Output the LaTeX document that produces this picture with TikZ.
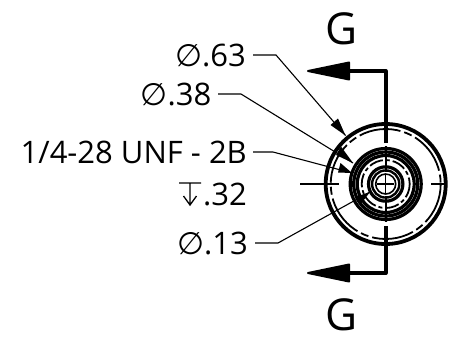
\documentclass[tikz,border=0pt]{standalone}
\usepackage{fontspec}
\setmainfont{Open Sans}
\newfontfamily\sym{DejaVu Sans}
\newcommand{\dia}{{\sym ∅}}
\begin{document}
\begin{tikzpicture}[x=1bp,y=-1bp,
  lab/.style={font=\fontsize{31bp}{33bp}\selectfont,inner sep=0pt,anchor=east},
  sec/.style={font=\fontsize{44bp}{46bp}\selectfont,inner sep=0pt},
  lead/.style={line width=1.1bp},
  thick ring/.style={line width=3.8bp},
  thin ring/.style={line width=1.8bp},
  secline/.style={line width=3.8bp,line join=round},
  head/.style={fill=black,draw=black,line width=2bp,line join=round},
  depth/.style={line width=1.3bp}]
\useasboundingbox (0,0) rectangle (455,337);
\coordinate (c) at (385.7,184);
% text
\node[sec] (g1) at (342,29) {G};
\node[sec] (g2) at (342,315) {G};
\node[lab] (d63) at (246,55) {\dia.63};
\node[lab] (d38) at (211.5,94) {\dia.38};
\node[lab] (unf) at (247,152) {1/4-28 UNF - 2B};
\node[lab] (dep) at (247,194) {.32};
\node[lab] (d13) at (248,243) {\dia.13};
\draw[depth] (179,183) -- (201,183) (190,183) -- (190,205) (183.5,196) -- (190,205) -- (196.5,196);
% rings
\draw[thick ring] (c) circle (60);
\draw[thin ring,dash pattern=on 42bp off 4bp on 8bp off 4bp] (c) circle (55);
\draw[line width=3.2bp] (c) circle (35.5);
\draw[line width=3.2bp] (c) circle (32);
\draw[line width=3.2bp] (c) circle (28.5);
\draw[thin ring,dash pattern=on 14bp off 3bp on 4bp off 3bp] (c) circle (24);
\draw[line width=3.2bp] (c) circle (17.2);
\draw[line width=2.4bp] (c) circle (13.6);
\draw[line width=1.6bp] (c) circle (10);
% centre lines
\draw[line width=1.2bp] (300,184) -- (339,184);
\draw[line width=1.2bp] (431,184) -- (446,184);
\draw[line width=1.2bp] (377,184) -- (394,184);
\draw[line width=1.2bp] (385.7,175) -- (385.7,193);
\draw[line width=1.6bp] (385.7,146) -- (385.7,172);
\draw[line width=1.6bp] (385.7,196) -- (385.7,222);
% section line
\coordinate (t1) at (350,71);
\coordinate (t2) at (350,273);
\coordinate (e1) at (385.7,143);
\coordinate (e2) at (385.7,226);
\draw[secline] (e1) -- (385.7,71) -- (t1);
\draw[secline] (e2) -- (385.7,273) -- (t2);
\draw[head] (349,62.5) -- (308,71) -- (349,79.5) -- cycle;
\draw[head] (349,264.5) -- (308,273) -- (349,281.5) -- cycle;
% leaders
\coordinate (a63) at (345.5,135.5);
\coordinate (a38) at (353,163);
\coordinate (aun) at (352,173);
\coordinate (a13) at (370,192);
\draw[lead] (253,55) -- (276,55) -- (a63);
\draw[lead] (218,94) -- (241,94) -- (a38);
\draw[lead] (253,152) -- (273,152) -- (aun);
\draw[lead] (255,243) -- (278,243) -- (a13);
\fill[black] (a63) -- (330.5,125) -- (338,118.5) -- cycle;
\fill[black] (a38) -- (336,155) -- (341,146.5) -- cycle;
\fill[black] (aun) -- (338,172.5) -- (340.5,163) -- cycle;
\fill[black] (a13) -- (360,205) -- (355,197) -- cycle;
\end{tikzpicture}
\end{document}
